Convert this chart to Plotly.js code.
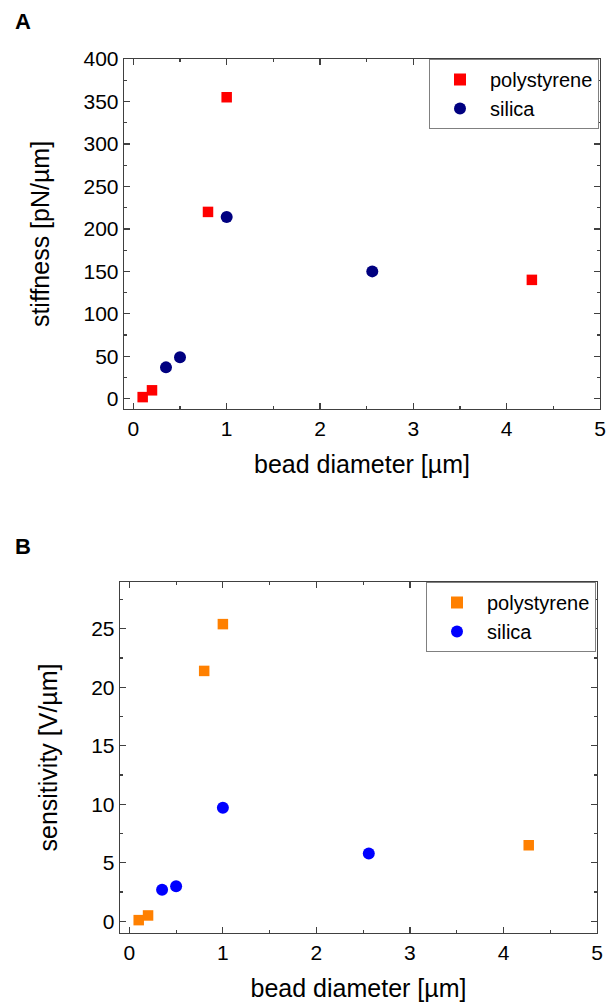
<!DOCTYPE html>
<html><head><meta charset="utf-8">
<script src="https://cdn.plot.ly/plotly-3.0.1.min.js"></script>
<style>body{margin:0;padding:0;background:#fff}#chart{width:614px;height:1004px}</style>
</head><body><div id="chart"></div>
<script>
// Panel A: stiffness
const psDiamA = [0.1, 0.2, 0.8, 1.0, 4.27];
const psStiff = [2, 10, 220, 355, 140];
const siDiamA = [0.35, 0.5, 1.0, 2.56];
const siStiff = [37, 49, 214, 150];
// Panel B: sensitivity
const psDiamB = [0.1, 0.2, 0.8, 1.0, 4.27];
const psSens = [0.1, 0.5, 21.4, 25.4, 6.5];
const siDiamB = [0.35, 0.5, 1.0, 2.56];
const siSens = [2.7, 3.0, 9.7, 5.8];
const seriesNames = ['polystyrene', 'silica'];
const xTitle = 'bead diameter [µm]';
const yTitleA = 'stiffness [pN/µm]';
const yTitleB = 'sensitivity [V/µm]';

const FONT = 'Liberation Sans, Arial, sans-serif';
const traces = [
  {x: psDiamA, y: psStiff, name: seriesNames[0], type: 'scatter', mode: 'markers', xaxis: 'x', yaxis: 'y', legend: 'legend',
   marker: {symbol: 'square', size: 10.5, color: '#ff0000'}},
  {x: siDiamA, y: siStiff, name: seriesNames[1], type: 'scatter', mode: 'markers', xaxis: 'x', yaxis: 'y', legend: 'legend',
   marker: {symbol: 'circle', size: 12, color: '#000080'}},
  {x: psDiamB, y: psSens, name: seriesNames[0], type: 'scatter', mode: 'markers', xaxis: 'x2', yaxis: 'y2', legend: 'legend2',
   marker: {symbol: 'square', size: 10.5, color: '#ff8000'}},
  {x: siDiamB, y: siSens, name: seriesNames[1], type: 'scatter', mode: 'markers', xaxis: 'x2', yaxis: 'y2', legend: 'legend2',
   marker: {symbol: 'circle', size: 12, color: '#0000ff'}}
];

function ax(extra) {
  return Object.assign({
    showline: true, linecolor: '#404040', linewidth: 1.3, mirror: 'allticks',
    ticks: 'inside', ticklen: 6, tickwidth: 1.2, tickcolor: '#404040',
    showgrid: false, zeroline: false,
    tickfont: {family: FONT, size: 21, color: '#000'},
    fixedrange: true
  }, extra);
}

const legendStyle = {
  xanchor: 'right', yanchor: 'top', bgcolor: '#fff', bordercolor: '#808080', borderwidth: 1,
  font: {family: FONT, size: 20, color: '#000'}, itemsizing: 'constant', tracegroupgap: 0, itemwidth: 50
};
const TF = {family: FONT, size: 25, color: '#000'};

const layout = {
  width: 614, height: 1004, margin: {l: 0, r: 0, t: 0, b: 0},
  paper_bgcolor: '#fff', plot_bgcolor: '#fff', showlegend: true,
  xaxis: ax({domain: [124/614, 600/614], range: [-0.1, 5], dtick: 1, anchor: 'y',
    minor: {ticks: 'inside', ticklen: 3, dtick: 0.5, tickcolor: '#404040'},
    title: {text: xTitle, font: TF, standoff: 17}}),
  yaxis: ax({domain: [1 - 409/1004, 1 - 59/1004], range: [-12, 400], dtick: 50, anchor: 'x',
    minor: {ticks: 'inside', ticklen: 3, dtick: 25, tickcolor: '#404040'},
    title: {text: yTitleA, font: TF, standoff: 26}}),
  xaxis2: ax({domain: [120/614, 597/614], range: [-0.1, 5], dtick: 1, anchor: 'y2',
    minor: {ticks: 'inside', ticklen: 3, dtick: 0.5, tickcolor: '#404040'},
    title: {text: xTitle, font: TF, standoff: 17}}),
  yaxis2: ax({domain: [1 - 933/1004, 1 - 582/1004], range: [-1, 29], dtick: 5, anchor: 'x2',
    minor: {ticks: 'inside', ticklen: 3, dtick: 2.5, tickcolor: '#404040'},
    title: {text: yTitleB, font: TF, standoff: 26}}),
  legend: Object.assign({x: 599/614, y: 1 - 59/1004}, legendStyle),
  legend2: Object.assign({x: 596/614, y: 1 - 582/1004}, legendStyle),
  annotations: [
    {text: '<b>A</b>', x: 13/614, y: 1 - 22/1004, xref: 'paper', yref: 'paper', xanchor: 'left', yanchor: 'middle', showarrow: false, font: {family: FONT, size: 22, color: '#000'}},
    {text: '<b>B</b>', x: 13/614, y: 1 - 546/1004, xref: 'paper', yref: 'paper', xanchor: 'left', yanchor: 'middle', showarrow: false, font: {family: FONT, size: 22, color: '#000'}}
  ]
};

Plotly.newPlot('chart', traces, layout, {displayModeBar: false, staticPlot: true});
</script></body></html>
